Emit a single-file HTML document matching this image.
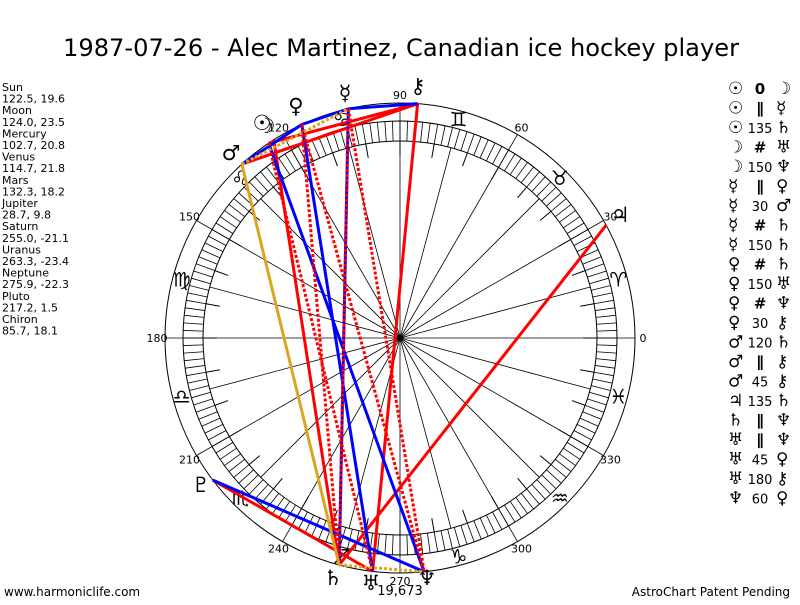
<!DOCTYPE html>
<html><head><meta charset="utf-8"><style>
body{margin:0;background:#fff;width:800px;height:600px;overflow:hidden;font-family:"Liberation Sans","DejaVu Sans",sans-serif}
</style></head><body>
<svg id="s" width="800" height="600" xmlns="http://www.w3.org/2000/svg" font-family="DejaVu Sans, Liberation Sans, sans-serif">
<rect width="800" height="600" fill="#fff"/>
<text x="401" y="56" font-size="24" text-anchor="middle" fill="#000" textLength="676" lengthAdjust="spacingAndGlyphs">1987-07-26 - Alec Martinez, Canadian ice hockey player</text>
<g id="chart" stroke="#000" fill="none" stroke-width="1">
<circle cx="400" cy="338" r="235"/>
<circle cx="400" cy="338" r="217"/>
<circle cx="400" cy="338" r="197"/>
</g>
<g id="lbl" font-size="11" fill="#000"></g>
<g id="left" font-size="11" fill="#000"></g>
<g id="asp" stroke-width="3" fill="none"></g>
<g id="pl" font-size="19" fill="#000" text-anchor="middle"></g>
<text x="400" y="595" font-size="13" text-anchor="middle">19,673</text>
<text x="4" y="596" font-size="12">www.harmoniclife.com</text>
<text x="790" y="596" font-size="12" text-anchor="end">AstroChart Patent Pending</text>
<g id="leg" font-size="14" fill="#000"></g>
</svg>
<script>
const NS="http://www.w3.org/2000/svg",cx=400,cy=338;
function el(p,t,a,txt){const e=document.createElementNS(NS,t);for(const k in a)e.setAttribute(k,a[k]);if(txt!==undefined)e.textContent=txt;document.getElementById(p).appendChild(e);return e;}
function pt(a,r){const t=a*Math.PI/180;return [cx+r*Math.cos(t),cy-r*Math.sin(t)];}
for(let a=0;a<360;a+=2){const[p,q]=pt(a,197),[u,v]=pt(a,217);el('chart','line',{x1:p,y1:q,x2:u,y2:v,'stroke-width':0.8});}
for(let a=0;a<360;a+=10){const[p,q]=pt(a,183),[u,v]=pt(a,197);el('chart','line',{x1:p,y1:q,x2:u,y2:v});}
for(let a=0;a<360;a+=15){const r=a%30==0?235:197;const[u,v]=pt(a,r);el('chart','line',{x1:cx,y1:cy,x2:u,y2:v,'stroke-width':0.8});}
el('chart','circle',{cx:cx,cy:cy,r:2.5,fill:'#000'});
for(let a=0;a<360;a+=30){const[u,v]=pt(a,243);el('lbl','text',{x:u,y:v+4,'text-anchor':'middle'},String(a));}
const signs=['♈','♉','♊','♋','♌','♍','♎','♏','♐','♑','♒','♓'];
for(let i=0;i<12;i++){const[u,v]=pt(i*30+15,226);el('lbl','text',{x:u,y:v+7,'text-anchor':'middle','font-size':20},signs[i]);}
const L=["Sun","122.5, 19.6","Moon","124.0, 23.5","Mercury","102.7, 20.8","Venus","114.7, 21.8","Mars","132.3, 18.2","Jupiter","28.7, 9.8","Saturn","255.0, -21.1","Uranus","263.3, -23.4","Neptune","275.9, -22.3","Pluto","217.2, 1.5","Chiron","85.7, 18.1"];
L.forEach((s,i)=>el('left','text',{x:2,y:91+i*11.6},s));
const P={Su:122.5,Mo:124,Me:102.7,Ve:114.7,Ma:132.3,Ju:28.7,Sa:255,Ur:263.3,Ne:275.9,Pl:217.2,Ch:85.7};
function E(k){return pt(P[k],235);}
const A=[
['Ch','Ur','red',0],['Ju','Sa','red',0],['Ma','Ch','red',0],['Su','Sa','red',0],['Pl','Ur','red',0],['Mo','Ch','red',0],
['Ma','Ve','blue',0],['Ve','Me','blue',0],['Me','Ch','blue',0],['Me','Sa','blue',0],['Mo','Ne','blue',0],['Ve','Ur','blue',0],['Pl','Ne','blue',0],
['Ve','Sa','red',1],['Ve','Ne','red',1],['Me','Sa','red',1],['Mo','Ur','red',1],['Me','Ne','red',1],
['Ma','Sa','#daa520',0],['Ma','Me','#daa520',1],['Sa','Ne','#daa520',1]];
A.forEach(([a,b,c,d])=>{const[p,q]=E(a),[u,v]=E(b);const o={x1:p,y1:q,x2:u,y2:v,stroke:c};if(d)o['stroke-dasharray']='3,2';el('asp','line',o);});
const G=[['☉',262,130],['☽',266,133],['☿',345,100],['♀',296,113],['♂',231,160],['♃',620,222],['♄',333,585],['♅',371,590],['♆',427,585],['♇',201,492],['⚷',418,93]];
G.forEach(([g,x,y])=>el('pl','text',{x:x,y:y,'font-size':21},g));
const R=[['☉','0','☽'],['☉','∥','☿'],['☉','135','♄'],['☽','#','♅'],['☽','150','♆'],['☿','∥','♀'],['☿','30','♂'],['☿','#','♄'],['☿','150','♄'],['♀','#','♄'],['♀','150','♅'],['♀','#','♆'],['♀','30','⚷'],['♂','120','♄'],['♂','∥','⚷'],['♂','45','⚷'],['♃','135','♄'],['♄','∥','♆'],['♅','∥','♆'],['♅','45','♀'],['♅','180','⚷'],['♆','60','♀']];
R.forEach(([a,m,b],i)=>{const y=94+i*19.5;el('leg','text',{x:728,y:y,'font-size':17},a);el('leg','text',{x:760,y:y,'text-anchor':'middle','font-size':m.length>1?13:15,'font-weight':m.length>1?'normal':'bold'},m);el('leg','text',{x:776,y:y,'font-size':17},b);});
</script>
</body></html>
